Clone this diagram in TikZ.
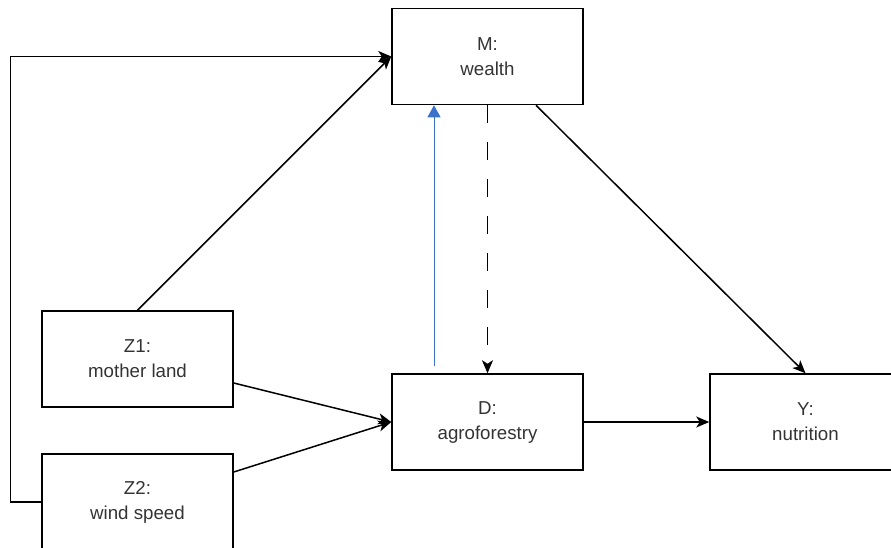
\documentclass[tikz,border=0pt]{standalone}
\usepackage{fontspec}
\setmainfont{Liberation Sans}
\usetikzlibrary{arrows.meta}

\begin{document}
\begin{tikzpicture}[x=1pt,y=-1pt,line width=1.5pt,
    box/.style={draw,minimum width=191pt,minimum height=96pt,align=center,
      text=black!80,font=\fontsize{18.7}{25}\selectfont},
    arr/.style={-{Stealth[length=13pt,width=11pt,inset=3.5pt]}},
    dasharr/.style={arr,dash pattern=on 18pt off 19pt},
    bluearr/.style={-{Triangle[length=12pt,width=13pt]},draw=mblue,fill=mblue}]
    \definecolor{mblue}{HTML}{3D72CB}
    \clip (0,0) rectangle (891,547);
    % cajas
    \node[box] (m) at (487.5,56.5) {M:\\wealth};
    \node[box] (d) at (487.5,422) {D:\\agroforestry};
    \node[box] (y) at (805.5,422) {Y:\\nutrition};
    \node[box] (z1) at (137.5,359) {Z1:\\mother land};
    \node[box] (z2) at (137.5,502) {Z2:\\wind speed};
    % flechas
    \draw[arr] (z2.west) -- ++(-31,0) |- (m.west);
    \draw[arr] (z1.north) -- (m.west);
    \draw[arr] ([yshift=-24pt]z1.east) -- (d.west);
    \draw[arr] ([yshift=30pt]z2.east) -- (d.west);
    \draw[arr] (d.east) -- (y.west);
    \draw[arr] ([xshift=48.5pt]m.south) -- (y.north);
    \draw[dasharr] (m.south) -- (d.north);
    \draw[bluearr,line width=1pt,shorten <=7pt] ([xshift=-53.5pt]d.north) -- ([xshift=-53.5pt]m.south);
  \end{tikzpicture}
\end{document}
